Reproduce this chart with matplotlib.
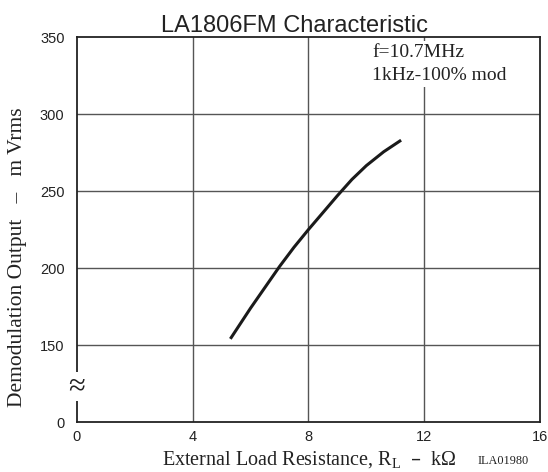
import matplotlib
matplotlib.use("Agg")
import matplotlib.pyplot as plt

# curve (R_L in kOhm, output in mVrms)
load_kohm = [5.3, 6.0, 7.0, 7.5, 8.0, 9.0, 9.5, 10.0, 10.6, 11.2]
output_mv = [154, 174, 201, 213.5, 225, 247, 257.5, 266.5, 275.5, 283]

# y axis is broken: 0 is drawn one grid step below 150
y_ticks = [100, 150, 200, 250, 300, 350]
y_labels = ["0", "150", "200", "250", "300", "350"]
x_ticks = [0, 4, 8, 12, 16]

SANS = "Liberation Sans"
SERIF = "Liberation Serif"
INK = "#222222"

fig = plt.figure(figsize=(5.48, 4.72), dpi=100)
ax = fig.add_axes([0.1405, 0.1059, 0.8449, 0.8157])

ax.set_xlim(0, 16)
ax.set_ylim(100, 350)
ax.set_xticks(x_ticks)
ax.set_yticks(y_ticks)
ax.set_yticklabels(y_labels)
for lab in ax.get_xticklabels() + ax.get_yticklabels():
    lab.set_fontfamily(SANS)
    lab.set_fontsize(10.5)
    lab.set_color(INK)
ax.tick_params(length=0, pad=6)
ax.tick_params(axis="y", pad=9)

# grid
for gx in [4, 8, 12]:
    ax.axvline(gx, color="#555555", lw=1.0, zorder=1)
for gy in [150, 200, 250, 300]:
    ax.axhline(gy, color="#555555", lw=1.0, zorder=1)

for sp in ax.spines.values():
    sp.set_color(INK)
    sp.set_linewidth(1.3)

ax.plot(load_kohm, output_mv, color="#1a1a1a", lw=2.2, solid_capstyle="butt",
        solid_joinstyle="round", zorder=3)

# axis break marker
ax.text(0, 123, "\u2248", ha="center", va="center", fontsize=22, family=SERIF,
        color=INK, clip_on=False, zorder=5,
        bbox=dict(boxstyle="square,pad=0.0", fc="white", ec="none"))

ax.text(10.2, 345.5, "f=10.7MHz\n1kHz-100% mod", ha="left", va="top", fontsize=14,
        family=SERIF, color=INK, linespacing=1.5, zorder=4,
        bbox=dict(boxstyle="square,pad=0.15", fc="white", ec="none"))

ax.set_title("LA1806FM Characteristic", fontsize=17, family=SANS, color=INK, pad=3, x=0.47)

ax.set_ylabel("Demodulation Output   \u2013   m Vrms", fontsize=15.5, family=SERIF, color=INK)
ax.yaxis.set_label_coords(-0.108, 0.428)
ax.set_xlabel("External Load Resistance, R$_{\\mathregular{L}}$  \u2013  k\u03a9", fontsize=14.5,
              family=SERIF, color=INK)
ax.xaxis.set_label_coords(0.502, -0.07)

fig.text(478 / 548, 1 - 461 / 472, "ILA01980", fontsize=8.8, family=SERIF, color=INK,
         ha="left", va="center")

fig.savefig("out.png", dpi=100)
